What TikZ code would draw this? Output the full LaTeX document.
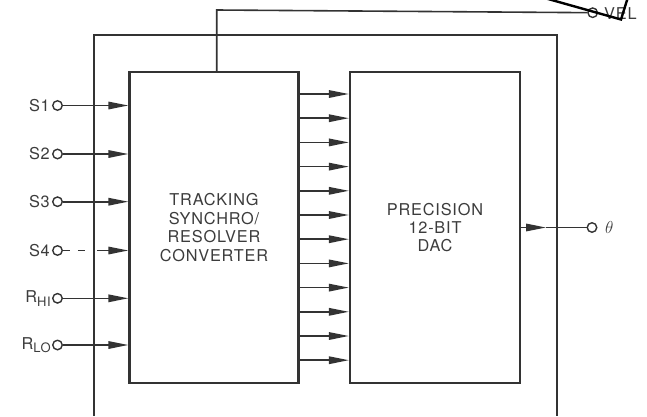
\documentclass[tikz,border=0pt]{standalone}
\usepackage{fontspec}
\setmainfont{TeX Gyre Heros}[LetterSpace=5.0]
\usetikzlibrary{arrows.meta}
\definecolor{ink}{HTML}{333333}
\definecolor{txt}{HTML}{3C3C3C}
\begin{document}
\begin{tikzpicture}[x=1pt,y=-1pt,
  box/.style={draw=ink, line width=2.3pt, inner sep=0pt, text=txt, align=center,
    font=\fontsize{16.3}{18.4}\selectfont},
  pin/.style={circle, draw=ink, line width=1.4pt, minimum size=9.5pt, inner sep=0pt},
  wire/.style={draw=ink, line width=1.6pt},
  arr/.style={wire, -{Triangle[length=20pt,width=7.5pt]}},
  lbl/.style={text=txt, inner sep=0pt, font=\fontsize{16.3}{17}\selectfont}]
\useasboundingbox (0,0) rectangle (647,416);

% outer frame
\draw[wire, line width=1.7pt] (94,416) -- (94,35) -- (557,35) -- (557,416);

% blocks
\node[box, minimum width=169pt, minimum height=311pt] (conv) at (214,227.5)
  {TRACKING\\SYNCHRO/\\RESOLVER\\CONVERTER};
\node[box, minimum width=170pt, minimum height=311pt] (dac) at (435,227.5)
  {PRECISION\\12-BIT\\DAC};

% inputs
\node[pin] (s1c) at (57.5,105.5) {};
\node[lbl, anchor=east] (s1l) at (50,105.5) {S1};
\draw[arr] (s1c) -- (s1c -| conv.west);

\node[pin] (s2c) at (57.5,154) {};
\node[lbl, anchor=east] (s2l) at (50,154) {S2};
\draw[arr] (s2c) -- (s2c -| conv.west);

\node[pin] (s3c) at (57.5,201.7) {};
\node[lbl, anchor=east] (s3l) at (50,201.7) {S3};
\draw[arr] (s3c) -- (s3c -| conv.west);

\node[pin] (s4c) at (57.5,250.5) {};
\node[lbl, anchor=east] (s4l) at (50,250.5) {S4};
\coordinate (s4a) at (85,250.5);
\coordinate (s4b) at (97,250.5);
\draw[wire, dash pattern=on 7pt off 8pt] (s4c) -- (s4a);
\draw[arr] (s4b) -- (s4b -| conv.west);

\node[pin] (rhc) at (57.5,298.3) {};
\node[lbl, anchor=east] (rhl) at (51,298.3) {R\raisebox{-3.5pt}{\fontsize{13}{13}\selectfont HI}};
\draw[arr] (rhc) -- (rhc -| conv.west);

\node[pin] (rlc) at (57.5,345) {};
\node[lbl, anchor=east] (rll) at (51,345) {R\raisebox{-3.5pt}{\fontsize{13}{13}\selectfont LO}};
\draw[arr] (rlc) -- (rlc -| conv.west);

% 12-bit bus
\foreach \i in {0,...,11} {
  \pgfmathsetmacro\yy{94+24.2*\i}
  \draw[arr] (conv.east |- 0,\yy) -- (dac.west |- 0,\yy);
}

% output theta
\node[pin] (thc) at (592,227.5) {};
\coordinate (thm) at (546,227.5);
\draw[arr] (dac.east) -- (thm);
\draw[wire] (thm) -- (thc);
\node[text=txt, inner sep=0pt, anchor=west, font=\fontsize{19}{19}\selectfont] (thl) at (605,227.5) {$\theta$};

% velocity output
\node[pin] (velc) at (592.7,12.7) {};
\node[lbl, anchor=west] (vell) at (604,13.5) {VEL};
\coordinate (velk) at (216.7,10);
\draw[wire] (conv.north -| velk) -- (velk) -- (velc);

% pen mark
\draw[black, line width=2.4pt] (541,-3) -- (621,19.5) -- (628,-3);
\end{tikzpicture}
\end{document}
